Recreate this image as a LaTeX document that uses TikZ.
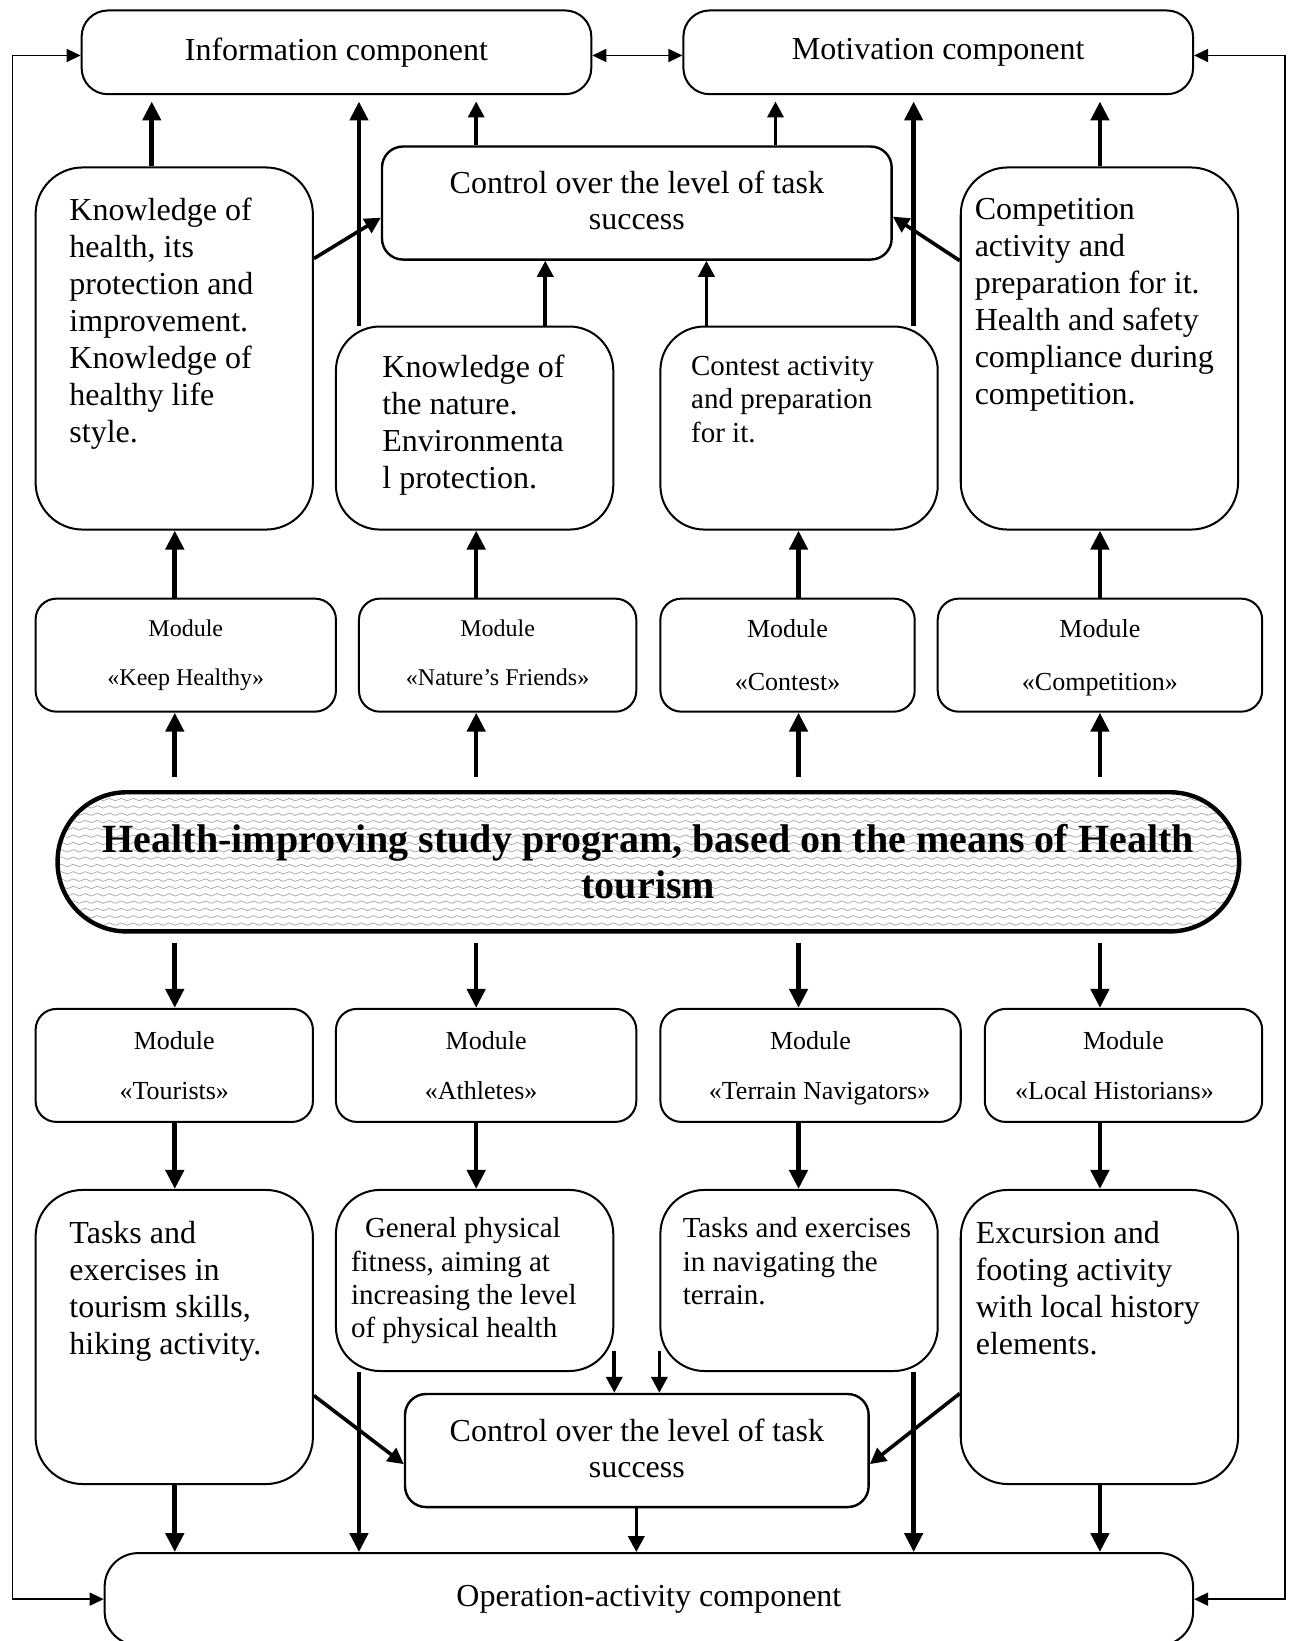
\documentclass[tikz,border=0pt]{standalone}
\usepackage{fontspec}
\setmainfont{Liberation Serif}
\usetikzlibrary{arrows.meta,decorations.pathmorphing}
\newcommand\pxu{0.5231pt}
\newcommand\nodepth[1]{\raisebox{0pt}[\height][0pt]{#1}}

\begin{document}
\begin{tikzpicture}[x=\pxu,y=-\pxu,
    part/.style={draw,line width=1pt,rounded corners=25*\pxu,inner sep=0pt,
                 minimum width=487*\pxu,minimum height=80*\pxu,
                 font=\fontsize{16}{18.5}\selectfont},
    ctrl/.style={draw,line width=1.2pt,rounded corners=20*\pxu,inner sep=0pt,
                 minimum height=108*\pxu,align=center,
                 font=\fontsize{16}{18.2}\selectfont},
    block/.style={draw,line width=1pt,rounded corners=42*\pxu,inner sep=0pt,
                  minimum width=265*\pxu},
    module/.style={draw,line width=1pt,rounded corners=20*\pxu,inner sep=0pt,
                   minimum height=108*\pxu,align=center},
    wave/.style={draw=black!35,line width=0.35pt,sharp corners,decorate,
                 decoration={snake,amplitude=0.6pt,segment length=6pt}},
    prog/.style={draw,line width=2.2pt,rounded corners=66*\pxu,inner sep=0pt,
                 minimum width=1129*\pxu,minimum height=133*\pxu,align=center,
                 font=\fontsize{20}{23}\selectfont\bfseries,
                 path picture={\foreach \k in {1,...,19}
                   \draw[wave] ([yshift=-\k*7*\pxu]path picture bounding box.north west)
                     -- ([yshift=-\k*7*\pxu]path picture bounding box.north east);}},
    txt/.style={inner sep=0pt,anchor=north west,align=left,
                font=\fontsize{16}{18.5}\selectfont},
    stxt/.style={txt,font=\fontsize{14.5}{16.7}\selectfont},
    bigarr/.style={line width=2.3pt,-{Triangle[width=9pt,length=9.5pt]}},
    midarr/.style={line width=1.8pt,-{Triangle[width=8pt,length=8pt]}},
    fbarr/.style={line width=0.8pt,
                  {Triangle[width=6.5pt,length=7pt]}-{Triangle[width=6.5pt,length=7pt]}},
  ]

    \path[use as bounding box] (0,0) rectangle (1233,1568);
    \clip (0,0) rectangle (1233,1568);

    % Columns
    \foreach \c in {12,145,167,343,455,521,608,675,741,763,873,1051,1228}
      \coordinate (x\c) at (\c,0);

    % Components
    \node[part] (info)  at (321.5,50) {Information component};
    \node[part] (motiv) at (896.5,50) {Motivation component};
    \node[part,minimum width=1040*\pxu,minimum height=88*\pxu,
          rounded corners=32*\pxu] (oper) at (620,1528)
      {Operation-activity component};

    % Control
    \node[ctrl,minimum width=487*\pxu] (ctrlA) at (608.5,194)
      {Control over the level of task\\success\rule[-2.6pt]{0pt}{2.6pt}};
    \node[ctrl,minimum width=443*\pxu] (ctrlB) at (608.5,1386)
      {Control over the level of task\\success\rule[-2.6pt]{0pt}{2.6pt}};

    % Content blocks
    \node[block,minimum height=346*\pxu,rounded corners=45*\pxu] (kh) at (166.5,333) {};
    \node[block,minimum height=194*\pxu] (nat)  at (453.5,409) {};
    \node[block,minimum height=194*\pxu] (cont) at (763.5,409) {};
    \node[block,minimum height=346*\pxu,rounded corners=45*\pxu] (comp) at (1050.5,333) {};
    \node[block,minimum height=281*\pxu,rounded corners=45*\pxu] (tour) at (166.5,1277.5) {};
    \node[block,minimum height=173*\pxu] (gen) at (453.5,1223.5) {};
    \node[block,minimum height=173*\pxu] (nav) at (763.5,1223.5) {};
    \node[block,minimum height=281*\pxu,rounded corners=45*\pxu] (exc) at (1050.5,1277.5) {};

    \node[txt] (kh-t) at (66,189)
      {Knowledge of\\health, its\\protection and\\improvement.\\Knowledge of\\healthy life\\style.};
    \node[txt] (nat-t) at (365,339)
      {Knowledge of\\the nature.\\Environmenta\\l protection.};
    \node[stxt] (cont-t) at (660,340)
      {Contest activity\\and preparation\\for it.};
    \node[txt] (comp-t) at (931,189.5)
      {Competition\\activity and\\preparation for it.\\Health and safety\\compliance during\\competition.};
    \node[txt] (tour-t) at (66,1167)
      {Tasks and\\exercises in\\tourism skills,\\hiking activity.};
    \node[stxt] (gen-t) at (335,1163)
      {\hspace*{7pt}General physical\\fitness, aiming at\\increasing the level\\of physical health};
    \node[stxt] (nav-t) at (652,1163)
      {Tasks and exercises\\in navigating the\\terrain.};
    \node[txt] (exc-t) at (932,1167)
      {Excursion and\\footing activity\\with local history\\elements.};

    % Modules
    \node[module,minimum width=287*\pxu,font=\fontsize{12}{14.4}\selectfont]
      (mKH) at (177.5,626) {Module\\[10.2pt]«Keep Healthy»};
    \node[module,minimum width=265*\pxu,font=\fontsize{12}{14.4}\selectfont]
      (mNF) at (475.5,626) {Module\\[10.2pt]«Nature’s Friends»\vphantom{y}};
    \node[module,minimum width=243*\pxu,font=\fontsize{13}{15.6}\selectfont]
      (mCt) at (752.5,626) {Module\\[10.6pt]«Contest»};
    \node[module,minimum width=310*\pxu,font=\fontsize{13}{15.6}\selectfont]
      (mCp) at (1051,626) {Module\\[10.6pt]\nodepth{«Competition»}};

    \node[module,minimum width=265*\pxu,font=\fontsize{13}{15.6}\selectfont]
      (mT) at (166.5,1018) {Module\\[9.4pt]«Tourists»};
    \node[module,minimum width=287*\pxu,font=\fontsize{13}{15.6}\selectfont]
      (mA) at (464.5,1018) {Module\\[9.4pt]«Athletes»\hspace*{5pt}};
    \node[module,minimum width=287*\pxu,font=\fontsize{13}{15.6}\selectfont]
      (mTN) at (774.5,1018) {Module\\[9.4pt]\hspace*{9pt}\nodepth{«Terrain Navigators»}};
    \node[module,minimum width=265*\pxu,font=\fontsize{13}{15.6}\selectfont]
      (mLH) at (1073.5,1018) {Module\\[9.4pt]«Local Historians»\hspace*{9pt}};

    % Program
    \node[prog] (prog) at (619.5,823.5)
      {Health-improving study program, based on the means of Health\\tourism};

    % Upward flows
    \draw[bigarr,shorten >=6*\pxu] (kh.north -| x145) -- (info.south -| x145);
    \draw[bigarr,shorten >=6*\pxu] (nat.north -| x343) -- (info.south -| x343);
    \draw[midarr,shorten >=6*\pxu] (ctrlA.north -| x455) -- (info.south -| x455);
    \draw[midarr,shorten >=6*\pxu] (ctrlA.north -| x741) -- (motiv.south -| x741);
    \draw[bigarr,shorten >=6*\pxu] (cont.north -| x873) -- (motiv.south -| x873);
    \draw[bigarr,shorten >=6*\pxu] (comp.north -| x1051) -- (motiv.south -| x1051);

    \draw[midarr] ([yshift=-88*\pxu]kh.north east) -- ([yshift=-14*\pxu]ctrlA.west);
    \draw[midarr] ([yshift=-90*\pxu]comp.north west) -- ([yshift=-13*\pxu]ctrlA.east);
    \draw[midarr] (nat.north -| x521) -- (ctrlA.south -| x521);
    \draw[midarr] (cont.north -| x675) -- (ctrlA.south -| x675);

    \foreach \m/\b/\c in {mKH/kh/x167,mNF/nat/x455,mCt/cont/x763,mCp/comp/x1051}{
      \draw[bigarr] (\m.north -| \c) -- (\b.south -| \c);
      \draw[bigarr,shorten <=12*\pxu] (prog.north -| \c) -- (\m.south -| \c);
    }

    % Downward flows
    \foreach \m/\b/\c in {mT/tour/x167,mA/gen/x455,mTN/nav/x763,mLH/exc/x1051}{
      \draw[bigarr,shorten <=9*\pxu] (prog.south -| \c) -- (\m.north -| \c);
      \draw[bigarr] (\m.south -| \c) -- (\b.north -| \c);
    }

    \draw[bigarr] (tour.south -| x167) -- (oper.north -| x167);
    \draw[bigarr] (gen.south -| x343) -- (oper.north -| x343);
    \draw[bigarr] (nav.south -| x873) -- (oper.north -| x873);
    \draw[bigarr] (exc.south -| x1051) -- (oper.north -| x1051);
    \draw[midarr] (ctrlB.south -| x608) -- (oper.north -| x608);

    \draw[midarr] ([yshift=20*\pxu]gen.south east) -- (ctrlB.north -| gen.east);
    \draw[midarr] ([yshift=20*\pxu]nav.south west) -- (ctrlB.north -| nav.west);
    \draw[midarr] ([yshift=-56*\pxu]tour.east) -- ([yshift=-13*\pxu]ctrlB.west);
    \draw[midarr] ([yshift=-54*\pxu]exc.west) -- ([yshift=-13*\pxu]ctrlB.east);

    % Feedback
    \draw[fbarr] ([yshift=-3*\pxu]info.west) -- ([yshift=-3*\pxu]info.west -| x12)
      -- (oper.west -| x12) -- (oper.west);
    \draw[fbarr] ([yshift=-3*\pxu]motiv.east) -- ([yshift=-3*\pxu]motiv.east -| x1228)
      -- (oper.east -| x1228) -- (oper.east);
    \draw[fbarr] ([yshift=-3*\pxu]info.east) -- ([yshift=-3*\pxu]motiv.west);

  \end{tikzpicture}
\end{document}
